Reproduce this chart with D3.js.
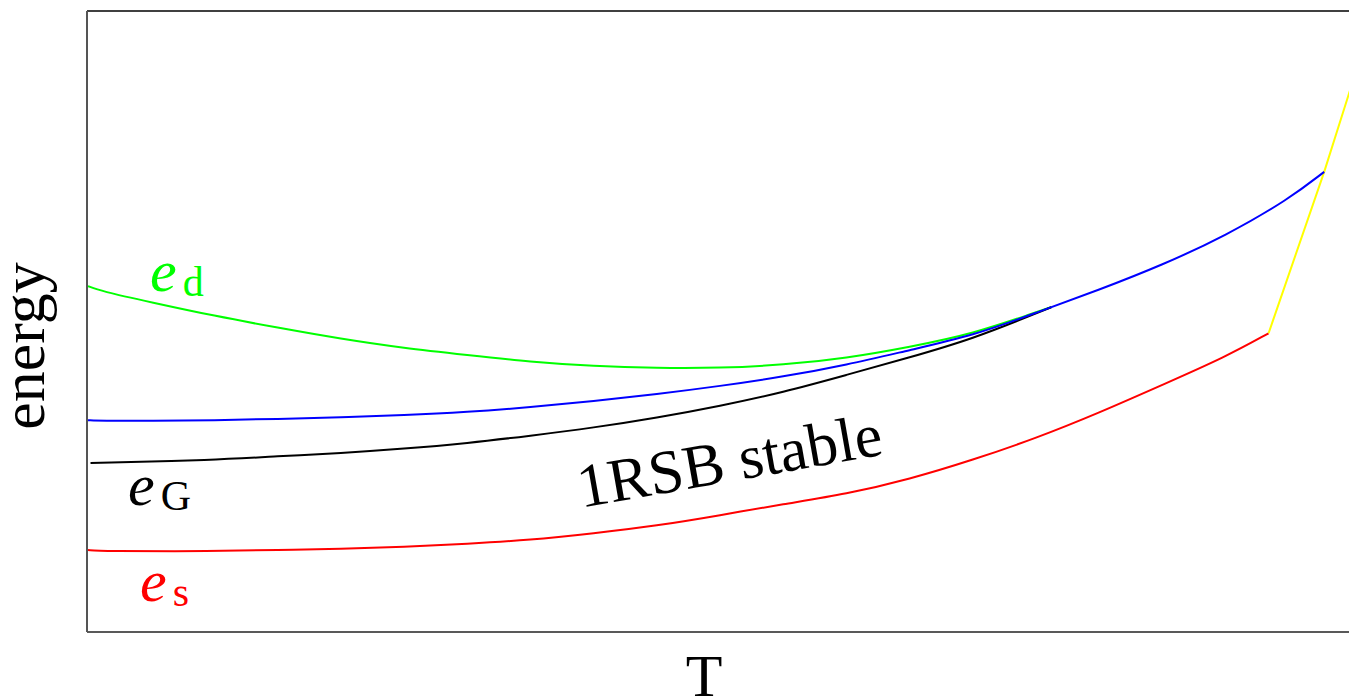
<!DOCTYPE html>
<html>
<head>
<meta charset="utf-8">
<script src="https://cdn.jsdelivr.net/npm/d3@7/dist/d3.min.js"></script>
<style>
  html, body { margin: 0; padding: 0; background: #fff; }
  svg { display: block; }
</style>
</head>
<body>
<svg id="chart" width="1349" height="698"></svg>
<script>
// Energy curves versus temperature (arbitrary units)
const tD = [0, 0.1, 0.5, 1, 1.5, 2, 2.5, 3, 3.5, 4, 4.5, 5, 5.5, 6, 6.5, 7, 7.5, 7.62];
const eD = [5.57, 5.49, 5.31, 5.09, 4.90, 4.72, 4.57, 4.46, 4.35, 4.28, 4.25, 4.25, 4.30, 4.41, 4.59, 4.80, 5.15, 5.23];

const tBlue = [0, 0.1, 0.5, 1, 1.5, 2, 2.5, 3, 3.5, 4, 4.5, 5, 5.5, 6, 6.5, 7, 7.5, 8, 8.5, 9, 9.5, 9.78];
const eBlue = [3.41, 3.40, 3.40, 3.41, 3.43, 3.46, 3.49, 3.54, 3.62, 3.72, 3.83, 3.96, 4.11, 4.30, 4.54, 4.77, 5.14, 5.51, 5.91, 6.38, 6.97, 7.41];

const tG = [0.02, 1, 1.5, 2, 2.5, 3, 3.5, 4, 4.5, 5, 5.5, 6, 6.5, 7, 7.5, 7.62];
const eG = [2.72, 2.77, 2.83, 2.88, 2.95, 3.04, 3.16, 3.29, 3.45, 3.64, 3.86, 4.14, 4.42, 4.72, 5.13, 5.23];

const tS = [0, 0.1, 1, 1.5, 2, 2.5, 3, 3.5, 4, 4.5, 5, 5.5, 6, 6.5, 7, 7.5, 8, 8.5, 9, 9.34];
const eS = [1.32, 1.30, 1.30, 1.32, 1.34, 1.37, 1.42, 1.48, 1.59, 1.71, 1.88, 2.06, 2.22, 2.46, 2.77, 3.12, 3.53, 3.98, 4.43, 4.81];

const tY = [9.34, 9.78, 9.99, 10.05];
const eY = [4.81, 7.41, 8.76, 9.1];

const serif = "'Liberation Serif', 'Times New Roman', 'DejaVu Serif', serif";

const svg = d3.select("#chart");
const plotLeft = 88, plotRight = 1352, plotTop = 11, plotBottom = 632;

const x = d3.scaleLinear().domain([0, 10]).range([plotLeft, plotRight]);
const y = d3.scaleLinear().domain([0, 10]).range([plotBottom, plotTop]);

svg.append("defs").append("clipPath").attr("id", "plotArea")
  .append("rect").attr("x", plotLeft).attr("y", plotTop)
  .attr("width", plotRight - plotLeft).attr("height", plotBottom - plotTop);

const smooth = d3.line().x(d => x(d[0])).y(d => y(d[1])).curve(d3.curveBasis);
const straight = d3.line().x(d => x(d[0])).y(d => y(d[1])).curve(d3.curveLinear);

const plot = svg.append("g").attr("clip-path", "url(#plotArea)");

function draw(ts, es, color, gen) {
  plot.append("path")
    .datum(d3.zip(ts, es))
    .attr("d", gen)
    .attr("fill", "none")
    .attr("stroke", color)
    .attr("stroke-width", 2)
    .attr("stroke-linejoin", "round");
}

draw(tS, eS, "#ff0000", smooth);
draw(tD, eD, "#00ff00", smooth);
draw(tG, eG, "#000000", smooth);
draw(tY, eY, "#ffff00", straight);
draw(tBlue, eBlue, "#0000ff", smooth);

// frame
svg.append("line").attr("x1", plotLeft - 1).attr("x2", plotRight).attr("y1", plotTop).attr("y2", plotTop)
  .attr("stroke", "#000").attr("stroke-width", 1.5);
svg.append("line").attr("x1", plotLeft - 1).attr("x2", plotRight).attr("y1", plotBottom).attr("y2", plotBottom)
  .attr("stroke", "#222").attr("stroke-width", 1.5);
svg.append("line").attr("x1", plotLeft - 1).attr("x2", plotLeft - 1).attr("y1", plotTop).attr("y2", plotBottom)
  .attr("stroke", "#555").attr("stroke-width", 2);

// axis titles
svg.append("text")
  .attr("transform", "translate(44,346) rotate(-90)")
  .attr("text-anchor", "middle")
  .attr("font-family", serif)
  .attr("font-size", 62)
  .text("energy");

svg.append("text")
  .attr("x", 704).attr("y", 696)
  .attr("text-anchor", "middle")
  .attr("font-family", serif)
  .attr("font-size", 60)
  .text("T");

// curve labels
function label(xp, yp, sub, color) {
  const t = svg.append("text").attr("x", xp).attr("y", yp)
    .attr("fill", color).attr("font-family", serif);
  t.append("tspan").attr("font-style", "italic").attr("font-size", 60).text("e");
  t.append("tspan").attr("font-size", 42).attr("dx", 6).attr("dy", 5).text(sub);
}
label(150, 291, "d", "#00ff00");
label(128, 505, "G", "#000000");
label(140, 601, "s", "#ff0000");

svg.append("text")
  .attr("transform", "translate(733,481) rotate(-10)")
  .attr("text-anchor", "middle")
  .attr("font-family", serif)
  .attr("font-size", 62)
  .text("1RSB stable");
</script>
</body>
</html>
